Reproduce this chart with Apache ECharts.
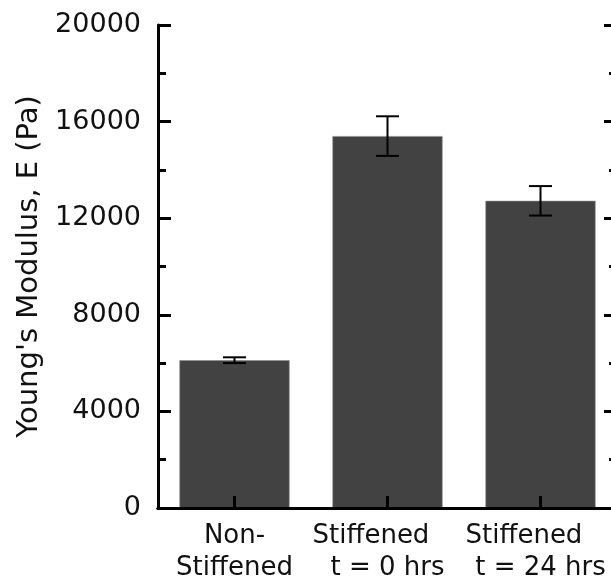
<!DOCTYPE html>
<html>
<head>
<meta charset="utf-8">
<script src="https://cdn.jsdelivr.net/npm/echarts@6/dist/echarts.min.js"></script>
<style>
html,body{margin:0;padding:0;background:#fff;}
#chart{width:611px;height:584px;}
</style>
</head>
<body>
<div id="chart"></div>
<script>
var categories = ["Non-\nStiffened", "Stiffened    \nt = 0 hrs", "Stiffened    \nt = 24 hrs"];
var modulus = [6120, 15400, 12720];
var modulusErr = [120, 820, 610];
var yTicks = [0, 4000, 8000, 12000, 16000, 20000];

var chart = echarts.init(document.getElementById('chart'));
var FONT = '"DejaVu Sans", "Liberation Sans", Arial, sans-serif';
var errData = modulus.map(function (v, i) { return [i, v - modulusErr[i], v + modulusErr[i]]; });

var axisLine = { show: true, lineStyle: { color: '#000', width: 3 } };

chart.setOption({
  animation: false,
  backgroundColor: '#fff',
  grid: { left: 158, top: 25, width: 459, height: 483, containLabel: false, outerBoundsMode: 'none' },
  xAxis: [
    {
      type: 'category', position: 'bottom', data: categories, z: 10,
      axisLine: axisLine,
      axisTick: { show: true, inside: true, length: 12, alignWithLabel: true, lineStyle: { width: 3, color: '#000' } },
      axisLabel: { color: '#111', fontFamily: FONT, fontSize: 26, lineHeight: 32, margin: 12, interval: 0 },
      splitLine: { show: false }
    },
    {
      type: 'category', position: 'top', data: categories, z: 10,
      axisLine: axisLine, axisTick: { show: false }, axisLabel: { show: false }, splitLine: { show: false }
    }
  ],
  yAxis: [
    {
      type: 'value', position: 'left', min: yTicks[0], max: yTicks[yTicks.length - 1], interval: 4000, z: 10,
      name: "Young's Modulus, E (Pa)", nameLocation: 'middle', nameGap: 113,
      nameTextStyle: { color: '#111', fontFamily: FONT, fontSize: 29 },
      axisLine: axisLine,
      axisTick: { show: true, inside: true, length: 13, lineStyle: { width: 3, color: '#000' } },
      minorTick: { show: true, splitNumber: 2, length: 8, lineStyle: { width: 3, color: '#000' } },
      axisLabel: { color: '#111', fontFamily: FONT, fontSize: 27, margin: 17, formatter: function (v) { return String(v); } },
      splitLine: { show: false }
    },
    {
      type: 'value', position: 'right', min: yTicks[0], max: yTicks[yTicks.length - 1], interval: 4000, z: 10,
      axisLine: axisLine,
      axisTick: { show: true, inside: true, length: 13, lineStyle: { width: 3, color: '#000' } },
      minorTick: { show: true, splitNumber: 2, length: 8, lineStyle: { width: 3, color: '#000' } },
      axisLabel: { show: false },
      splitLine: { show: false }
    }
  ],
  series: [
    {
      type: 'bar', data: modulus, barWidth: '72%',
      itemStyle: { color: '#424242', borderColor: '#8a8a8a', borderWidth: 0.6 },
      z: 2
    },
    {
      type: 'custom', data: errData, z: 3,
      renderItem: function (params, api) {
        var x = api.value(0);
        var lo = api.coord([x, api.value(1)]);
        var hi = api.coord([x, api.value(2)]);
        var hw = 11.5;
        var st = { stroke: '#000', lineWidth: 2 };
        return {
          type: 'group',
          children: [
            { type: 'line', shape: { x1: lo[0], y1: lo[1], x2: hi[0], y2: hi[1] }, style: st },
            { type: 'line', shape: { x1: lo[0] - hw, y1: lo[1], x2: lo[0] + hw, y2: lo[1] }, style: st },
            { type: 'line', shape: { x1: hi[0] - hw, y1: hi[1], x2: hi[0] + hw, y2: hi[1] }, style: st }
          ]
        };
      }
    }
  ]
});
</script>
</body>
</html>
